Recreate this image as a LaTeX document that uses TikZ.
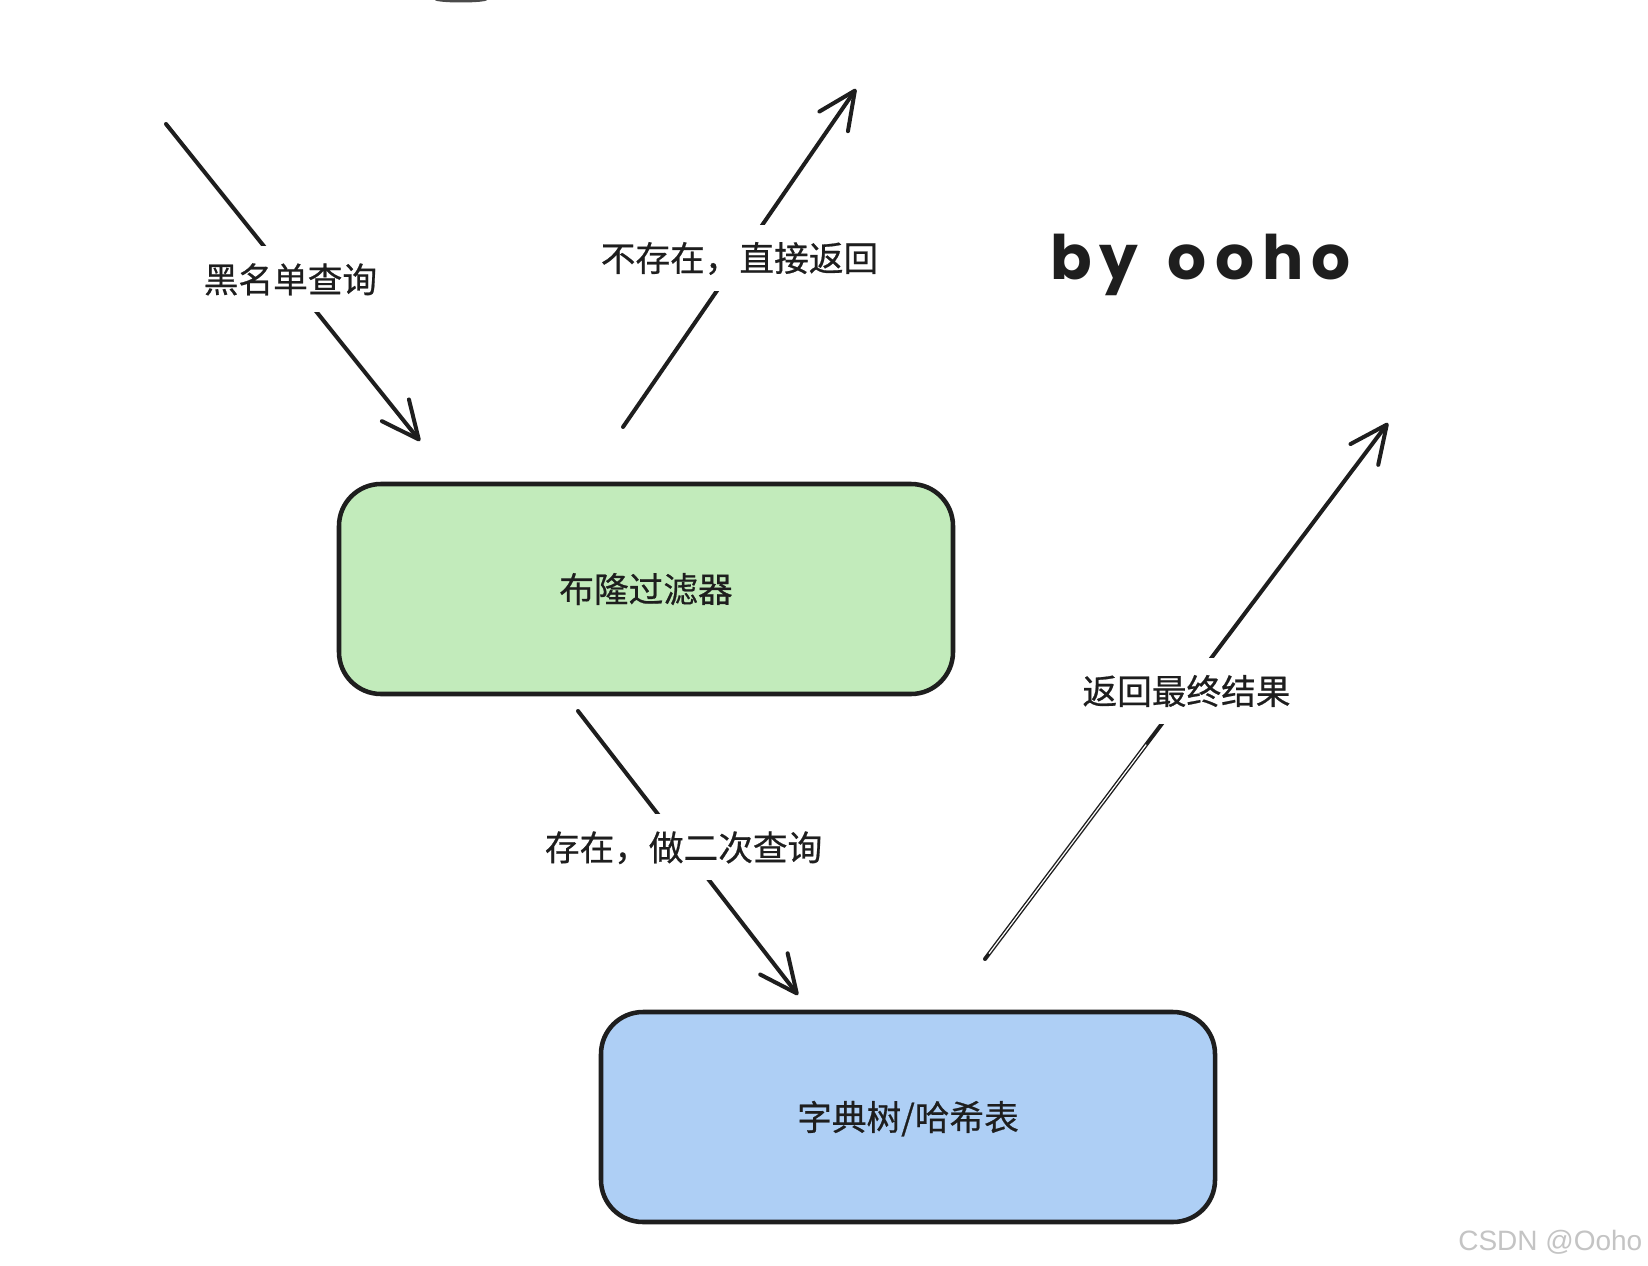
\documentclass[tikz,border=0pt]{standalone}
\usepackage{fontspec}
\usetikzlibrary{arrows.meta,calc}
\newfontfamily\cjk{Noto Sans CJK SC}[FakeBold=0.6]
\newfontfamily\hand{Poppins}[LetterSpace=13]
\newfontfamily\wm{Liberation Sans}
\definecolor{ink}{HTML}{1E1E1E}
\definecolor{boxgreen}{HTML}{C2EBBB}
\definecolor{boxblue}{HTML}{AECFF5}
\definecolor{wmgray}{HTML}{C4C4C4}
\tikzset{
  flowbox/.style={draw=ink, line width=3.4pt, rounded corners=31.5pt,
    minimum width=460.5pt, minimum height=157.5pt, inner sep=0pt,
    font=\cjk\fontsize{26}{30}\selectfont, text=ink},
  flowarrow/.style={draw=ink, line width=3pt, line cap=round,
    -{Straight Barb[length=28pt,width=26pt,round]}},
  arrowlabel/.style={fill=white, font=\cjk\fontsize{26}{30}\selectfont,
    text=ink, inner xsep=2pt, inner ysep=12.6pt, text height=22pt, text depth=2.2pt}
}
\begin{document}
\begin{tikzpicture}[x=0.75pt, y=-0.75pt]
  \useasboundingbox (0,0) rectangle (1648,1266);
  \fill[white] (0,0) rectangle (1648,1266);

  % stray mark at top edge
  \fill[ink!80] (461,0) ellipse [x radius=26, y radius=2.5];

  % boxes
  \node[flowbox, fill=boxgreen, text height=22pt, text depth=2.2pt] (bloom) at (646,589) {布隆过滤器};
  \node[flowbox, fill=boxblue, text height=22pt, text depth=2.2pt] (dict) at (908,1117) {字典树/哈希表};

  % free ends
  \coordinate (a1s) at (166,124);
  \coordinate (a1e) at (420,441);
  \coordinate (a2s) at (623,427);
  \coordinate (a2e) at (856,89);
  \coordinate (a3s) at (578,711);
  \coordinate (a3e) at (798,995);
  \coordinate (a4s) at (985,959);
  \coordinate (a4e) at (1388,423);

  \draw[flowarrow] (a1s) -- node[arrowlabel, pos=0.49] (l1) {黑名单查询} (a1e);
  \draw[flowarrow] (a2s) -- node[arrowlabel, pos=0.5] (l2) {不存在，直接返回} (a2e);
  \draw[flowarrow] (a3s) -- node[arrowlabel, pos=0.48] (l3) {存在，做二次查询} (a3e);
  \draw[flowarrow] (a4s) -- node[arrowlabel, pos=0.5] (l4) {返回最终结果} (a4e);
  % sketchy double stroke on lower part of the last arrow
  \draw[white, line width=0.9pt] ($(a4s)!0.01!(a4e)$) -- ($(a4s)!0.4!(a4e)$);

  % signature and watermark
  \node[anchor=base west, inner sep=0pt, text=ink,
    font=\hand\bfseries\fontsize{46}{50}\selectfont] (sig) at (1050,280) {by\hspace{22pt}ooho};
  \node[anchor=base west, inner sep=0pt, text=wmgray,
    font=\wm\fontsize{21}{24}\selectfont] (wm) at (1458,1250) {CSDN @Ooho};
\end{tikzpicture}
\end{document}
